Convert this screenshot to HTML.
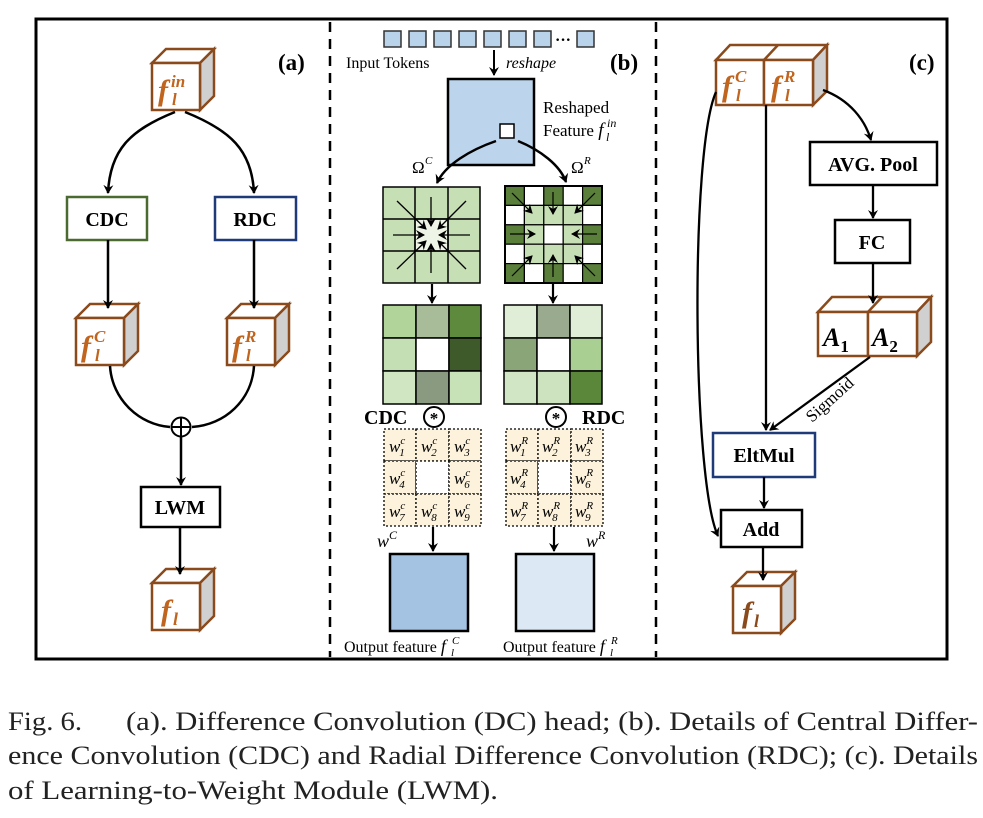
<!DOCTYPE html>
<html><head><meta charset="utf-8"><style>
html,body{margin:0;padding:0;background:#fff;}
svg{display:block;}
text{font-family:"Liberation Serif",serif;}
.b{font-weight:bold;}
.cube{font-family:"Liberation Serif",serif;font-style:italic;font-weight:bold;fill:#c0641e;}
</style></head><body>
<svg width="983" height="818" viewBox="0 0 983 818" xmlns="http://www.w3.org/2000/svg">
<defs>
<marker id="ar" markerWidth="10" markerHeight="10" refX="8" refY="5" orient="auto" markerUnits="userSpaceOnUse">
<path d="M0,0 L9,5 L0,10 L3,5 Z" fill="#000"/></marker>
<g id="cube">
<path d="M0,0 L14,-14 L62,-14 L48,0 Z" fill="#fff" stroke="#8a4a1c" stroke-width="2.5"/>
<path d="M48,0 L62,-14 L62,33 L48,47 Z" fill="#d0d0d0" stroke="#8a4a1c" stroke-width="2.5"/>
<rect x="0" y="0" width="48" height="47" fill="#fff" stroke="#8a4a1c" stroke-width="2.5"/>
</g>
</defs>
<rect x="36" y="19" width="911" height="640" fill="none" stroke="#000" stroke-width="3"/>
<line x1="330" y1="22" x2="330" y2="657" stroke="#000" stroke-width="2.5" stroke-dasharray="10,7"/>
<line x1="656" y1="22" x2="656" y2="657" stroke="#000" stroke-width="2.5" stroke-dasharray="10,7"/>

<!-- (a) -->
<text x="278" y="70" class="b" font-size="23">(a)</text>
<use href="#cube" x="152" y="63"/>
<text x="158" y="100" class="cube" font-size="30">f</text><text x="171" y="87" class="cube" font-size="17">in</text><text x="172" y="105" class="cube" font-size="17">l</text>
<path d="M175,112 C130,130 110,150 108,193" fill="none" stroke="#000" stroke-width="2.5" marker-end="url(#ar)"/>
<path d="M185,112 C230,130 252,150 254,193" fill="none" stroke="#000" stroke-width="2.5" marker-end="url(#ar)"/>
<rect x="67" y="197" width="80" height="43" fill="#fff" stroke="#4a6a30" stroke-width="2.5"/>
<text x="107" y="226" class="b" font-size="20" text-anchor="middle">CDC</text>
<rect x="215" y="197" width="81" height="43" fill="#fff" stroke="#1f3a78" stroke-width="2.5"/>
<text x="255" y="226" class="b" font-size="20" text-anchor="middle">RDC</text>
<use href="#cube" x="76" y="318"/>
<text x="81" y="356" class="cube" font-size="30">f</text><text x="94" y="342" class="cube" font-size="17">C</text><text x="95" y="361" class="cube" font-size="17">l</text>
<use href="#cube" x="227" y="318"/>
<text x="232" y="356" class="cube" font-size="30">f</text><text x="245" y="342" class="cube" font-size="17">R</text><text x="246" y="361" class="cube" font-size="17">l</text>
<line x1="108" y1="240" x2="108" y2="308" stroke="#000" stroke-width="2.5" marker-end="url(#ar)"/>
<line x1="254" y1="240" x2="254" y2="308" stroke="#000" stroke-width="2.5" marker-end="url(#ar)"/>
<path d="M110,366 C112,400 140,425 170,427" fill="none" stroke="#000" stroke-width="2.5"/>
<path d="M254,366 C252,400 225,425 192,427" fill="none" stroke="#000" stroke-width="2.5"/>
<circle cx="181" cy="427" r="9.5" fill="#fff" stroke="#000" stroke-width="2"/>
<line x1="171.5" y1="427" x2="190.5" y2="427" stroke="#000" stroke-width="2"/>
<line x1="181" y1="417.5" x2="181" y2="436.5" stroke="#000" stroke-width="2"/>
<line x1="181" y1="437" x2="181" y2="485" stroke="#000" stroke-width="2.5" marker-end="url(#ar)"/>
<rect x="141" y="487" width="79" height="40" fill="#fff" stroke="#000" stroke-width="2.5"/>
<text x="180" y="514" class="b" font-size="20" text-anchor="middle">LWM</text>
<use href="#cube" x="152" y="583"/>
<line x1="180" y1="527" x2="180" y2="574" stroke="#000" stroke-width="2.5" marker-end="url(#ar)"/>
<text x="161" y="620" class="cube" font-size="30">f</text><text x="173" y="625" class="cube" font-size="18">l</text>

<!-- (b) -->
<text x="610" y="70" class="b" font-size="23">(b)</text>
<g fill="#b9d3ea" stroke="#333" stroke-width="1.5">
<rect x="384" y="31" width="17" height="16"/><rect x="409" y="31" width="17" height="16"/><rect x="434" y="31" width="17" height="16"/><rect x="459" y="31" width="17" height="16"/><rect x="484" y="31" width="17" height="16"/><rect x="509" y="31" width="17" height="16"/><rect x="534" y="31" width="17" height="16"/><rect x="577" y="31" width="17" height="16"/>
</g>
<text x="555" y="45" font-size="16" class="b">···</text>
<text x="346" y="68" font-size="16">Input Tokens</text>
<line x1="494" y1="50" x2="494" y2="75" stroke="#000" stroke-width="2" marker-end="url(#ar)"/>
<text x="506" y="68" font-size="16" font-style="italic">reshape</text>
<rect x="448" y="79" width="86" height="86" fill="#bcd5ec" stroke="#000" stroke-width="2.5"/>
<rect x="500" y="124" width="14" height="14" fill="#fff" stroke="#000" stroke-width="1.5"/>
<text x="543" y="113" font-size="17">Reshaped</text>
<text x="543" y="136" font-size="17">Feature <tspan font-style="italic" font-size="19">f</tspan></text>
<text x="607" y="127" font-size="12" font-style="italic">in</text><text x="606" y="141" font-size="12" font-style="italic">l</text>
<path d="M496,141 C470,150 445,165 437,183" fill="none" stroke="#000" stroke-width="2.5" marker-end="url(#ar)"/>
<path d="M518,141 C540,150 560,165 566,182" fill="none" stroke="#000" stroke-width="2.5" marker-end="url(#ar)"/>
<text x="412" y="173" font-size="17">Ω</text><text x="425" y="164" font-size="11" font-style="italic">C</text>
<text x="571" y="173" font-size="17">Ω</text><text x="584" y="164" font-size="11" font-style="italic">R</text>
<!-- CDC grid -->
<g stroke="#000" stroke-width="1.5">
<rect x="383" y="187" width="97" height="96" fill="#c6dfb5"/>
<rect x="415" y="219" width="33" height="32" fill="#eef5e6"/>
<line x1="415" y1="187" x2="415" y2="283"/><line x1="448" y1="187" x2="448" y2="283"/>
<line x1="383" y1="219" x2="480" y2="219"/><line x1="383" y1="251" x2="480" y2="251"/>
</g>
<g stroke="#000" stroke-width="1.3" marker-end="url(#ar)">
<line x1="397" y1="201" x2="426" y2="229"/><line x1="431" y1="197" x2="431" y2="226"/><line x1="466" y1="201" x2="438" y2="229"/>
<line x1="393" y1="235" x2="424" y2="235"/><line x1="470" y1="235" x2="439" y2="235"/>
<line x1="397" y1="269" x2="426" y2="241"/><line x1="431" y1="273" x2="431" y2="244"/><line x1="466" y1="269" x2="438" y2="241"/>
</g>
<!-- RDC grid 5x5 -->
<g stroke="#000" stroke-width="1.2">
<rect x="505" y="186" width="19.4" height="19.4" fill="#5a7f3a"/><rect x="524.4" y="186" width="19.4" height="19.4" fill="#fff"/><rect x="543.8" y="186" width="19.4" height="19.4" fill="#5a7f3a"/><rect x="563.2" y="186" width="19.4" height="19.4" fill="#fff"/><rect x="582.6" y="186" width="19.4" height="19.4" fill="#5a7f3a"/>
<rect x="505" y="205.4" width="19.4" height="19.4" fill="#fff"/><rect x="524.4" y="205.4" width="19.4" height="19.4" fill="#c6dfb5"/><rect x="543.8" y="205.4" width="19.4" height="19.4" fill="#c6dfb5"/><rect x="563.2" y="205.4" width="19.4" height="19.4" fill="#c6dfb5"/><rect x="582.6" y="205.4" width="19.4" height="19.4" fill="#fff"/>
<rect x="505" y="224.8" width="19.4" height="19.4" fill="#5a7f3a"/><rect x="524.4" y="224.8" width="19.4" height="19.4" fill="#c6dfb5"/><rect x="543.8" y="224.8" width="19.4" height="19.4" fill="#fff"/><rect x="563.2" y="224.8" width="19.4" height="19.4" fill="#c6dfb5"/><rect x="582.6" y="224.8" width="19.4" height="19.4" fill="#5a7f3a"/>
<rect x="505" y="244.2" width="19.4" height="19.4" fill="#fff"/><rect x="524.4" y="244.2" width="19.4" height="19.4" fill="#c6dfb5"/><rect x="543.8" y="244.2" width="19.4" height="19.4" fill="#c6dfb5"/><rect x="563.2" y="244.2" width="19.4" height="19.4" fill="#c6dfb5"/><rect x="582.6" y="244.2" width="19.4" height="19.4" fill="#fff"/>
<rect x="505" y="263.6" width="19.4" height="19.4" fill="#5a7f3a"/><rect x="524.4" y="263.6" width="19.4" height="19.4" fill="#fff"/><rect x="543.8" y="263.6" width="19.4" height="19.4" fill="#5a7f3a"/><rect x="563.2" y="263.6" width="19.4" height="19.4" fill="#fff"/><rect x="582.6" y="263.6" width="19.4" height="19.4" fill="#5a7f3a"/>
</g>
<rect x="505" y="186" width="97" height="97" fill="none" stroke="#000" stroke-width="2"/>
<g stroke="#000" stroke-width="1.2" marker-end="url(#ar)">
<line x1="512" y1="193" x2="532" y2="213"/><line x1="553" y1="192" x2="553" y2="214"/><line x1="595" y1="193" x2="575" y2="213"/>
<line x1="510" y1="234" x2="535" y2="234"/><line x1="597" y1="234" x2="572" y2="234"/>
<line x1="512" y1="276" x2="532" y2="256"/><line x1="553" y1="277" x2="553" y2="255"/><line x1="595" y1="276" x2="575" y2="256"/>
</g>
<line x1="432" y1="284" x2="432" y2="303" stroke="#000" stroke-width="2.2" marker-end="url(#ar)"/>
<line x1="553" y1="284" x2="553" y2="303" stroke="#000" stroke-width="2.2" marker-end="url(#ar)"/>
<!-- output grids -->
<g stroke="#000" stroke-width="1.5">
<rect x="383" y="305" width="33" height="33" fill="#b0d49a"/><rect x="416" y="305" width="33" height="33" fill="#a9bc9a"/><rect x="449" y="305" width="32" height="33" fill="#5d8a3c"/>
<rect x="383" y="338" width="33" height="33" fill="#c4dfb4"/><rect x="416" y="338" width="33" height="33" fill="#fff"/><rect x="449" y="338" width="32" height="33" fill="#3f5a2a"/>
<rect x="383" y="371" width="33" height="33" fill="#d0e6c2"/><rect x="416" y="371" width="33" height="33" fill="#8a9a80"/><rect x="449" y="371" width="32" height="33" fill="#c8e2b8"/>
<rect x="504" y="305" width="33" height="33" fill="#e0eed8"/><rect x="537" y="305" width="33" height="33" fill="#9aaa8e"/><rect x="570" y="305" width="32" height="33" fill="#e0eed8"/>
<rect x="504" y="338" width="33" height="33" fill="#8aa678"/><rect x="537" y="338" width="33" height="33" fill="#fff"/><rect x="570" y="338" width="32" height="33" fill="#a9cf92"/>
<rect x="504" y="371" width="33" height="33" fill="#d0e6c4"/><rect x="537" y="371" width="33" height="33" fill="#cde3c0"/><rect x="570" y="371" width="32" height="33" fill="#5a873a"/>
</g>
<text x="364" y="424" class="b" font-size="20">CDC</text>
<circle cx="434" cy="417" r="10" fill="#fff" stroke="#000" stroke-width="2"/><text x="434" y="424" font-size="17" text-anchor="middle" class="b">*</text>
<circle cx="556" cy="417" r="10" fill="#fff" stroke="#000" stroke-width="2"/><text x="556" y="424" font-size="17" text-anchor="middle" class="b">*</text>
<text x="582" y="424" class="b" font-size="20">RDC</text>
<!-- weight grids -->
<g fill="#fdf3dc" stroke="#000" stroke-width="1.3" stroke-dasharray="2,2">
<rect x="384" y="429" width="32" height="32"/><rect x="416" y="429" width="33" height="32"/><rect x="449" y="429" width="32" height="32"/>
<rect x="384" y="461" width="32" height="33"/><rect x="416" y="461" width="33" height="33" fill="#fff"/><rect x="449" y="461" width="32" height="33"/>
<rect x="384" y="494" width="32" height="32"/><rect x="416" y="494" width="33" height="32"/><rect x="449" y="494" width="32" height="32"/>
<rect x="506" y="429" width="32" height="32"/><rect x="538" y="429" width="33" height="32"/><rect x="571" y="429" width="32" height="32"/>
<rect x="506" y="461" width="32" height="33"/><rect x="538" y="461" width="33" height="33" fill="#fff"/><rect x="571" y="461" width="32" height="33"/>
<rect x="506" y="494" width="32" height="32"/><rect x="538" y="494" width="33" height="32"/><rect x="571" y="494" width="32" height="32"/>
</g>
<g font-size="17" font-style="italic">
<text x="389" y="452">w<tspan font-size="11" dy="-8">c</tspan><tspan font-size="11" dx="-6" dy="12">1</tspan></text>
<text x="421" y="452">w<tspan font-size="11" dy="-8">c</tspan><tspan font-size="11" dx="-6" dy="12">2</tspan></text>
<text x="454" y="452">w<tspan font-size="11" dy="-8">c</tspan><tspan font-size="11" dx="-6" dy="12">3</tspan></text>
<text x="389" y="484">w<tspan font-size="11" dy="-8">c</tspan><tspan font-size="11" dx="-6" dy="12">4</tspan></text>
<text x="454" y="484">w<tspan font-size="11" dy="-8">c</tspan><tspan font-size="11" dx="-6" dy="12">6</tspan></text>
<text x="389" y="517">w<tspan font-size="11" dy="-8">c</tspan><tspan font-size="11" dx="-6" dy="12">7</tspan></text>
<text x="421" y="517">w<tspan font-size="11" dy="-8">c</tspan><tspan font-size="11" dx="-6" dy="12">8</tspan></text>
<text x="454" y="517">w<tspan font-size="11" dy="-8">c</tspan><tspan font-size="11" dx="-6" dy="12">9</tspan></text>
<text x="510" y="452">w<tspan font-size="11" dy="-8">R</tspan><tspan font-size="11" dx="-8" dy="12">1</tspan></text>
<text x="542" y="452">w<tspan font-size="11" dy="-8">R</tspan><tspan font-size="11" dx="-8" dy="12">2</tspan></text>
<text x="575" y="452">w<tspan font-size="11" dy="-8">R</tspan><tspan font-size="11" dx="-8" dy="12">3</tspan></text>
<text x="510" y="484">w<tspan font-size="11" dy="-8">R</tspan><tspan font-size="11" dx="-8" dy="12">4</tspan></text>
<text x="575" y="484">w<tspan font-size="11" dy="-8">R</tspan><tspan font-size="11" dx="-8" dy="12">6</tspan></text>
<text x="510" y="517">w<tspan font-size="11" dy="-8">R</tspan><tspan font-size="11" dx="-8" dy="12">7</tspan></text>
<text x="542" y="517">w<tspan font-size="11" dy="-8">R</tspan><tspan font-size="11" dx="-8" dy="12">8</tspan></text>
<text x="575" y="517">w<tspan font-size="11" dy="-8">R</tspan><tspan font-size="11" dx="-8" dy="12">9</tspan></text>
</g>
<text x="377" y="547" font-size="18" font-style="italic">w<tspan font-size="12" dy="-8">C</tspan></text>
<text x="586" y="547" font-size="18" font-style="italic">w<tspan font-size="12" dy="-8">R</tspan></text>
<line x1="433" y1="527" x2="433" y2="551" stroke="#000" stroke-width="2.2" marker-end="url(#ar)"/>
<line x1="554" y1="527" x2="554" y2="551" stroke="#000" stroke-width="2.2" marker-end="url(#ar)"/>
<rect x="390" y="554" width="78" height="77" fill="#a4c3e3" stroke="#000" stroke-width="2.5"/>
<rect x="516" y="554" width="78" height="77" fill="#dce8f4" stroke="#000" stroke-width="2.5"/>
<text x="344" y="652" font-size="16">Output feature <tspan font-style="italic" font-size="18">f</tspan></text>
<text x="452" y="644" font-size="11" font-style="italic">C</text><text x="451" y="656" font-size="11" font-style="italic">l</text>
<text x="503" y="652" font-size="16">Output feature <tspan font-style="italic" font-size="18">f</tspan></text>
<text x="611" y="644" font-size="11" font-style="italic">R</text><text x="610" y="656" font-size="11" font-style="italic">l</text>

<!-- (c) -->
<text x="909" y="70" class="b" font-size="23">(c)</text>
<path d="M716,60 L730,45 L827,45 L813,60 Z" fill="#fff" stroke="#8a4a1c" stroke-width="2.5"/>
<line x1="764" y1="60" x2="778" y2="45" stroke="#8a4a1c" stroke-width="2.5"/>
<path d="M813,60 L827,45 L827,91 L813,105 Z" fill="#d0d0d0" stroke="#8a4a1c" stroke-width="2.5"/>
<rect x="716" y="60" width="48" height="45" fill="#fff" stroke="#8a4a1c" stroke-width="2.5"/>
<rect x="764" y="60" width="49" height="45" fill="#fff" stroke="#8a4a1c" stroke-width="2.5"/>
<text x="722" y="96" class="cube" font-size="30">f</text><text x="735" y="82" class="cube" font-size="17">C</text><text x="736" y="101" class="cube" font-size="17">l</text>
<text x="771" y="96" class="cube" font-size="30">f</text><text x="784" y="82" class="cube" font-size="17">R</text><text x="785" y="101" class="cube" font-size="17">l</text>
<path d="M823,90 C850,100 865,120 871,140" fill="none" stroke="#000" stroke-width="2.3" marker-end="url(#ar)"/>
<rect x="810" y="142" width="127" height="43" fill="#fff" stroke="#000" stroke-width="2.5"/>
<text x="873" y="171" class="b" font-size="20" text-anchor="middle">AVG. Pool</text>
<line x1="873" y1="185" x2="873" y2="218" stroke="#000" stroke-width="2.3" marker-end="url(#ar)"/>
<rect x="835" y="220" width="75" height="43" fill="#fff" stroke="#000" stroke-width="2.5"/>
<text x="872" y="249" class="b" font-size="20" text-anchor="middle">FC</text>
<path d="M818,312 L832,297 L931,297 L917,312 Z" fill="#fff" stroke="#8a4a1c" stroke-width="2.5"/>
<line x1="868" y1="312" x2="882" y2="297" stroke="#8a4a1c" stroke-width="2.5"/>
<path d="M917,312 L931,297 L931,342 L917,356 Z" fill="#d0d0d0" stroke="#8a4a1c" stroke-width="2.5"/>
<rect x="818" y="312" width="50" height="44" fill="#fff" stroke="#8a4a1c" stroke-width="2.5"/>
<rect x="868" y="312" width="49" height="44" fill="#fff" stroke="#8a4a1c" stroke-width="2.5"/>
<line x1="873" y1="263" x2="873" y2="303" stroke="#000" stroke-width="2.3" marker-end="url(#ar)"/>
<text x="823" y="346" font-size="26" font-style="italic" font-weight="bold">A<tspan font-size="17" font-style="normal" dy="6">1</tspan></text>
<text x="872" y="346" font-size="26" font-style="italic" font-weight="bold">A<tspan font-size="17" font-style="normal" dy="6">2</tspan></text>
<line x1="766" y1="105" x2="766" y2="430" stroke="#000" stroke-width="2.3" marker-end="url(#ar)"/>
<line x1="870" y1="357" x2="770" y2="430" stroke="#000" stroke-width="2.3" marker-end="url(#ar)"/>
<text x="0" y="0" font-size="17" transform="translate(812,423) rotate(-42)">Sigmoid</text>
<path d="M716,92 C690,150 692,480 718,536" fill="none" stroke="#000" stroke-width="2.3" marker-end="url(#ar)"/>
<rect x="713" y="433" width="102" height="44" fill="#fff" stroke="#1f3a78" stroke-width="2.5"/>
<text x="764" y="462" class="b" font-size="20" text-anchor="middle">EltMul</text>
<line x1="764" y1="477" x2="764" y2="508" stroke="#000" stroke-width="2.3" marker-end="url(#ar)"/>
<rect x="721" y="510" width="81" height="37" fill="#fff" stroke="#000" stroke-width="2.5"/>
<text x="761" y="536" class="b" font-size="20" text-anchor="middle">Add</text>
<use href="#cube" x="733" y="586"/>
<line x1="763" y1="547" x2="763" y2="580" stroke="#000" stroke-width="2.3" marker-end="url(#ar)"/>
<text x="742" y="622" class="cube" font-size="30" style="fill:#8a4a1c">f</text><text x="754" y="627" class="cube" font-size="18" style="fill:#8a4a1c">l</text>

<!-- caption -->
<g font-size="26" fill="#222">
<text x="8" y="730" textLength="74" lengthAdjust="spacingAndGlyphs">Fig. 6.</text>
<text x="126" y="730" textLength="852" lengthAdjust="spacingAndGlyphs">(a). Difference Convolution (DC) head; (b). Details of Central Differ-</text>
<text x="8" y="764" textLength="970" lengthAdjust="spacingAndGlyphs">ence Convolution (CDC) and Radial Difference Convolution (RDC); (c). Details</text>
<text x="8" y="799" textLength="490" lengthAdjust="spacingAndGlyphs">of Learning-to-Weight Module (LWM).</text>
</g>
</svg>
</body></html>
